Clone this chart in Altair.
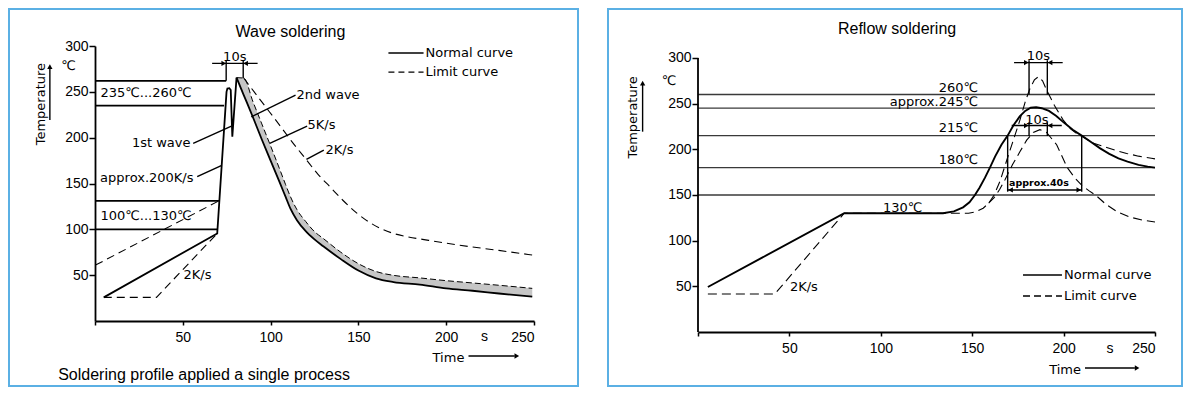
import altair as alt
import pandas as pd

BLUE = "#5BB0E4"
TECH = "DejaVu Sans"
SANS = "Liberation Sans"

# ---------------- Wave soldering (left panel) ----------------
wave_title = "Wave soldering"
wave_caption = "Soldering profile applied a single process"
wave_x_ticks = [0, 50, 100, 150, 200, 250]
wave_y_ticks = [50, 100, 150, 200, 250, 300]

# normal curve: preheat, 1st wave, rise to 2nd wave
wave_rise_t = [5, 69.6, 74.9, 75.4, 76.5, 77.3, 78.2, 80.6]
wave_rise_T = [25.8, 95.5, 250, 253.5, 254, 252, 201, 265.5]
# 2nd wave cooling band (lower edge = normal curve, upper edge = 5 K/s)
wave_band_t = [80.6, 84.7, 90, 95, 100, 105, 108.5, 111.3, 115, 120, 125, 130, 140, 150, 160, 170, 185, 200, 215, 230, 249]
wave_band_lo = [265.5, 246.5, 222, 198, 175, 152, 135.6, 122.5, 110, 98, 89, 81.5, 67.5, 55, 46.5, 42.5, 39.7, 35.5, 33, 30, 26.5]
wave_band_hi = [265.5, 265, 239, 215, 191, 166.5, 149, 135.6, 121.5, 108.5, 97.5, 90, 75, 62.5, 54, 49.8, 47, 44, 41.5, 39, 35.6]
# limit curves
wave_lim_a_t = [0.3, 70.5]
wave_lim_a_T = [61, 131]
wave_lim_b_t = [5, 35, 69.6]
wave_lim_b_T = [25.8, 25.8, 95.5]
wave_lim_c_t = [84.7, 95, 105, 112, 119.9, 127, 134, 141, 149.3, 156, 162.6, 170, 177.8, 190, 206.3, 230, 249]
wave_lim_c_T = [265, 239, 214, 196, 177, 160, 146, 132, 117.4, 108, 101, 95.5, 92, 88, 83, 77, 72]
# horizontal temperature marks
wave_ref_T = [262, 235, 131, 100]
wave_ref_end = [74.7, 73.5, 70.6, 69.6]

# ---------------- Reflow soldering (right panel) ----------------
reflow_title = "Reflow soldering"
reflow_x_ticks = [0, 50, 100, 150, 200, 250]
reflow_y_ticks = [50, 100, 150, 200, 250, 300]
reflow_ref_T = [260, 245, 215, 180, 150]
reflow_normal_t = [5.4, 80, 134, 140, 145, 148.5, 151.5, 154, 157, 159.7, 162.5, 166, 169.4, 172.5, 176, 179, 182, 185,
                   188, 192, 196, 200, 205, 209.9, 215, 220, 225, 230, 235, 241, 246, 250]
reflow_normal_T = [49.3, 130, 130, 132, 136.5, 142, 150, 158, 169, 180, 192, 205, 215, 226, 236, 242, 245.5, 246,
                   245, 242, 236.5, 229.5, 221.5, 215, 208, 201, 195, 190, 186.5, 183, 181, 180]
reflow_lim_hi_t = [5.4, 42, 80, 148, 152, 156, 159, 162, 165.2, 168.9, 172.5, 176.1, 179, 181.5, 184, 186.2, 188.5,
                   190.7, 195, 199.8, 204, 208, 210.8, 216, 223.6, 229, 234.5, 241, 248, 250]
reflow_lim_hi_T = [41.6, 41.6, 130, 130, 131.5, 135.5, 141, 150, 165, 188, 210, 232, 252, 266, 276, 279.5, 275,
                   265, 248, 232, 222, 216, 213.5, 207, 202, 198.5, 195.5, 192.5, 190.2, 189.5]
reflow_lim_lo_t = [159, 162, 165, 168, 172, 176, 179.8, 183.4, 187, 190.7, 196.2, 199, 202, 206, 210, 214, 218, 223,
                   229, 236, 243, 250]
reflow_lim_lo_T = [141, 147, 156, 167, 183, 197, 210, 218.5, 221.5, 218.5, 205, 193, 180, 169, 160.5, 154.5, 149,
                   140, 132, 126, 122.5, 120.5]


# ---------------- helpers ----------------
def builders(xdom, ydom, xaxis, yaxis):
    def X(f="x"):
        return alt.X(f, type="quantitative", scale=alt.Scale(domain=xdom, nice=False, zero=False), axis=xaxis)

    def Y(f="y"):
        return alt.Y(f, type="quantitative", scale=alt.Scale(domain=ydom, nice=False, zero=False), axis=yaxis)
    return X, Y


def line_layer(X, Y, t, T, dash=None, width=1.6, interp="linear"):
    df = pd.DataFrame({"x": t, "y": T, "i": list(range(len(t)))})
    kw = dict(color="black", strokeWidth=width, interpolate=interp)
    if dash:
        kw["strokeDash"] = dash
    return alt.Chart(df).mark_line(**kw).encode(x=X(), y=Y(), order="i:Q")


def rule_layer(X, Y, segs, dash=None, width=1.3, color="black"):
    df = pd.DataFrame(segs, columns=["x", "y", "x2", "y2"])
    kw = dict(color=color, strokeWidth=width)
    if dash:
        kw["strokeDash"] = dash
    return alt.Chart(df).mark_rule(**kw).encode(x=X(), y=Y(), x2="x2:Q", y2="y2:Q")


def text_layer(X, Y, rows, align="left", size=13, font=TECH, angle=0, weight="normal"):
    df = pd.DataFrame(rows, columns=["text", "x", "y"])
    return alt.Chart(df).mark_text(align=align, baseline="middle", fontSize=size, font=font, angle=angle,
                                   fontWeight=weight, color="black").encode(x=X(), y=Y(), text="text:N")


def head_layer(X, Y, rows, shape, size=28):
    df = pd.DataFrame(rows, columns=["x", "y"])
    return alt.Chart(df).mark_point(shape=shape, filled=True, size=size, color="black", opacity=1).encode(x=X(), y=Y())


def frame(x, x2, y, y2):
    return alt.Chart(pd.DataFrame({"k": [0]})).mark_rect(fillOpacity=0, stroke=BLUE, strokeWidth=2).encode(
        x=alt.value(x), x2=alt.value(x2), y=alt.value(y), y2=alt.value(y2))


def x_axis(vals):
    return alt.Axis(values=vals, title=None, grid=False, domainColor="black", domainWidth=1.8, tickColor="black",
                    tickWidth=1.5, tickSize=4, labelPadding=5, labelFont=SANS, labelFontSize=14, labelColor="black",
                    labelExpr="datum.value == 0 ? '' : datum.label")


def y_axis(vals, domain=True):
    return alt.Axis(values=vals, title=None, grid=False, domain=domain, domainColor="black", domainWidth=1.8,
                    tickColor="black", tickWidth=1.5, tickSize=6, labelPadding=1, labelFont=SANS,
                    labelFontSize=14, labelColor="black")


# ---------------- left panel ----------------
LW, LH = 439, 275
X, Y = builders([0, 250], [0, 300], x_axis(wave_x_ticks), y_axis(wave_y_ticks))

band_df = pd.DataFrame({"t": wave_band_t, "lo": wave_band_lo, "hi": wave_band_hi})

left_layers = [
    frame(-86, LW + 44, -37, 340),
    rule_layer(X, Y, [(0, T, e, T) for T, e in zip(wave_ref_T, wave_ref_end)], width=1.6),
    alt.Chart(band_df).mark_area(color="#C6C6C6", opacity=1, interpolate="monotone").encode(
        x=X("t"), y=Y("lo"), y2="hi:Q"),
    line_layer(X, Y, wave_band_t, wave_band_hi, dash=[6, 3], width=1.0, interp="monotone"),
    line_layer(X, Y, wave_lim_a_t, wave_lim_a_T, dash=[8, 5], width=1.1),
    line_layer(X, Y, wave_lim_b_t, wave_lim_b_T, dash=[8, 5], width=1.1),
    line_layer(X, Y, wave_lim_c_t, wave_lim_c_T, dash=[8, 5], width=1.1, interp="monotone"),
    line_layer(X, Y, wave_rise_t, wave_rise_T, width=1.8),
    line_layer(X, Y, wave_band_t, wave_band_lo, width=1.8, interp="monotone"),
    # pointers, dimension lines, legend, axis arrows
    rule_layer(X, Y, [(55.9, 193.8, 77.7, 212.6), (58.2, 157.4, 71.9, 169.4), (114.2, 246.5, 89, 222.8),
                      (120.8, 212.6, 99.5, 193.8), (130.3, 186.5, 120.4, 176.3),
                      (74.7, 262, 74.7, 284), (84.4, 265, 84.4, 284), (66.7, 281, 92.6, 281),
                      (167.1, 292.3, 187.1, 292.3), (212.7, -38.2, 239, -38.2), (-25.7, 219.2, -25.7, 276)],
               width=1.4),
    rule_layer(X, Y, [(167.1, 271.5, 187.1, 271.5)], dash=[6, 4], width=1.3),
    head_layer(X, Y, [(73.3, 281), (240.2, -38.2)], "triangle-right"),
    head_layer(X, Y, [(85.8, 281)], "triangle-left"),
    head_layer(X, Y, [(-25.7, 277.5)], "triangle-up"),
    text_layer(X, Y, [("235\u2103...260\u2103", 3.1, 248.6), ("100\u2103...130\u2103", 3.1, 114.5),
                      ("2nd wave", 114.7, 246.5), ("5K/s", 121, 213.7), ("2K/s", 131.3, 186.5),
                      ("2K/s", 50.4, 50.2), ("Normal curve", 188.2, 292.3), ("Limit curve", 188.2, 271.5)]),
    text_layer(X, Y, [("1st wave", 54.4, 194.1), ("approx.200K/s", 56.1, 156)], align="right"),
    text_layer(X, Y, [("10s", 79.6, 287.5), ("Time", 201.3, -40.3)], align="center"),
    text_layer(X, Y, [("\u2103", -15.1, 278)], align="center", size=13),
    text_layer(X, Y, [("s", 221.8, -17.4)], align="center", size=14, font=SANS),
    text_layer(X, Y, [(wave_title, 111.3, 315), (wave_caption, 62.1, -58.9)], align="center", size=16, font=SANS),
    text_layer(X, Y, [("Temperature", -31, 236.6)], align="center", size=13, angle=270),
]
left = alt.layer(*left_layers).properties(width=LW, height=LH)

# ---------------- right panel ----------------
RW, RH = 457, 286
X, Y = builders([0, 250], [0, 313.1], x_axis(reflow_x_ticks), y_axis(reflow_y_ticks, domain=False))

right_layers = [
    frame(-90, RW + 27, -37, 340),
    rule_layer(X, Y, [(0, T, 250, T) for T in reflow_ref_T], width=1.3, color="#3a3a3a"),
    rule_layer(X, Y, [(0, 0, 0, 300)], width=1.8),
    line_layer(X, Y, reflow_lim_hi_t, reflow_lim_hi_T, dash=[9, 5], width=1.1),
    line_layer(X, Y, reflow_lim_lo_t, reflow_lim_lo_T, dash=[9, 5], width=1.1),
    line_layer(X, Y, reflow_normal_t, reflow_normal_T, width=1.9),
    rule_layer(X, Y, [(181.1, 260, 181.1, 297.5), (191.1, 260, 191.1, 297.5), (172.9, 294.9, 199.5, 294.9),
                      (181.1, 214.6, 181.1, 229.5), (191.1, 214.6, 191.1, 229.5), (171.6, 226, 199, 226),
                      (169.4, 215, 169.4, 153.6), (209.9, 215, 209.9, 153.6), (169.4, 155.5, 209.9, 155.5),
                      (177.8, 62.4, 199.1, 62.4), (211.7, -39.4, 239, -39.4), (-30.3, 219.3, -30.3, 271)],
               width=1.4),
    rule_layer(X, Y, [(177.8, 39.4, 199.1, 39.4)], dash=[7, 4], width=1.3),
    head_layer(X, Y, [(179.6, 294.9), (179.6, 226), (208.3, 155.5), (240.2, -39.4)], "triangle-right"),
    head_layer(X, Y, [(192.6, 294.9), (192.6, 226), (171.0, 155.5)], "triangle-left"),
    head_layer(X, Y, [(-30.3, 272.5)], "triangle-up"),
    text_layer(X, Y, [("130\u2103", 101.2, 135.8), ("2K/s", 50.3, 49.3), ("Normal curve", 200.2, 62.4),
                      ("Limit curve", 200.2, 39.4)]),
    text_layer(X, Y, [("260\u2103", 153.2, 267.2), ("approx.245\u2103", 153.2, 252.2), ("215\u2103", 153.2, 223.7),
                      ("180\u2103", 153.2, 188.3)], align="right"),
    text_layer(X, Y, [("10s", 186.2, 302.2), ("10s", 185.4, 232.1), ("Time", 200.8, -41.6)], align="center"),
    text_layer(X, Y, [("approx.40s", 186.5, 163.5)], align="center", size=9.5, weight="bold"),
    text_layer(X, Y, [("\u2103", -15.9, 274.8)], align="center", size=13),
    text_layer(X, Y, [("s", 225.4, -18.6)], align="center", size=14, font=SANS),
    text_layer(X, Y, [(reflow_title, 108.9, 331.8)], align="center", size=16, font=SANS),
    text_layer(X, Y, [("Temperature", -35.6, 234.9)], align="center", size=13, angle=270),
]
right = alt.layer(*right_layers).properties(width=RW, height=RH)

chart = alt.hconcat(left, right, spacing=28).properties(padding=0).configure_view(stroke=None)
chart.save("out.html", embed_options={"renderer": "svg", "actions": False})
